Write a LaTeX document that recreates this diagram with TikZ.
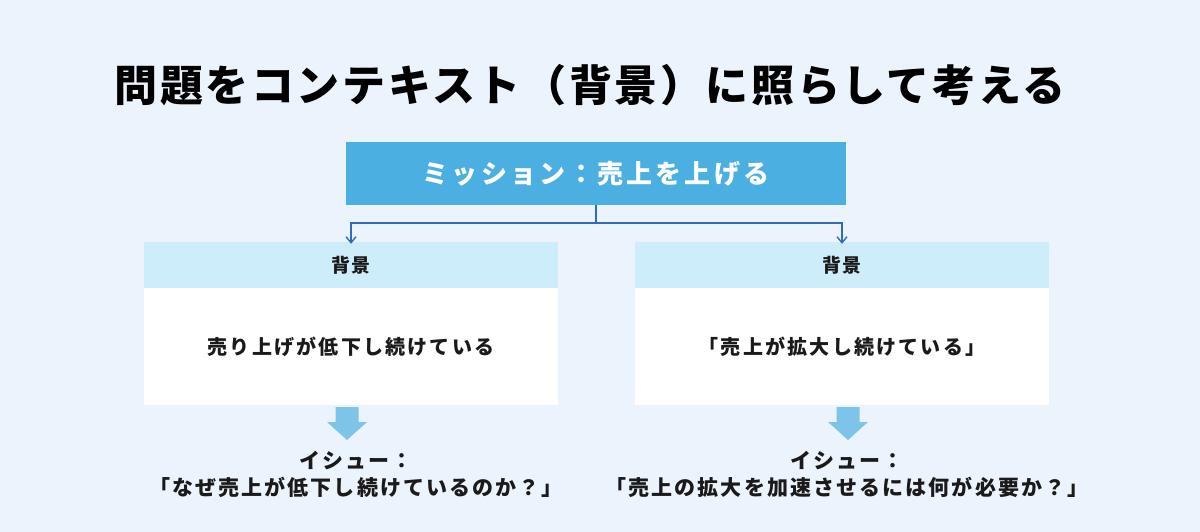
\documentclass[tikz,border=0pt]{standalone}
\usepackage{fontspec}
\setmainfont{Noto Sans CJK JP}
\usetikzlibrary{arrows.meta}
\definecolor{bgc}{HTML}{EBF3FC}
\definecolor{missionc}{HTML}{4BAFE1}
\definecolor{headc}{HTML}{CDEDFA}
\definecolor{bigarrowc}{HTML}{7DC3EA}
\definecolor{linec}{HTML}{2F6DB5}
\definecolor{txtc}{HTML}{1A1A1A}
\tikzset{
  mission/.style={fill=missionc, text=white, minimum width=500pt, minimum height=63pt, inner sep=0pt,
    font=\fontsize{26}{30}\selectfont\bfseries\addfontfeatures{LetterSpace=12}},
  headbox/.style={fill=headc, text=txtc, minimum width=414pt, minimum height=46pt, inner sep=0pt,
    font=\fontsize{19}{22}\selectfont\bfseries\addfontfeatures{LetterSpace=10}},
  bodybox/.style={fill=white, text=txtc, minimum width=414pt, minimum height=117pt, inner sep=0pt,
    font=\fontsize{20}{24}\selectfont\bfseries\addfontfeatures{LetterSpace=11}},
  issue/.style={text=txtc, align=center, inner sep=0pt,
    font=\fontsize{21}{27}\selectfont\bfseries\addfontfeatures{LetterSpace=10}},
  conn/.style={draw=linec, line width=1.4pt},
  connarrow/.style={conn, -{Straight Barb[length=6pt,width=10pt,line width=1.4pt]}},
  bigarrow/.style={fill=bigarrowc, draw=none}
}
\begin{document}
\begin{tikzpicture}[x=1pt,y=-1pt]
\fill[bgc] (0,0) rectangle (1200,532);
\useasboundingbox (0,0) rectangle (1200,532);

\node[text=black, inner sep=0pt, font=\fontsize{43}{50}\selectfont\bfseries\addfontfeatures{LetterSpace=6}] (title) at (590,85) {問題をコンテキスト（背景）に照らして考える};

\node[mission] (mis) at (596,173.5) {ミッション：売上を上げる};

\node[headbox] (lh) at (351,265) {背景};
\node[bodybox] (lb) at (351,346.5) {売り上げが低下し続けている};
\node[headbox] (rh) at (842,265) {背景};
\node[bodybox] (rb) at (842,346.5) {「売上が拡大し続けている」};

\coordinate (split) at (596,223);
\draw[conn] (mis.south) -- (split);
\draw[connarrow] (split) -| ([yshift=-2pt]lh.north);
\draw[connarrow] (split) -| ([yshift=-2pt]rh.north);

\fill[bigarrow] (335.5,407) -- (358.5,407) -- (358.5,422) -- (367,422) -- (347,440) -- (327,422) -- (335.5,422) -- cycle;
\fill[bigarrow] (836.5,407) -- (859.5,407) -- (859.5,422) -- (868,422) -- (848,440) -- (828,422) -- (836.5,422) -- cycle;

\node[issue] (li) at (356,474) {イシュー：\\「なぜ売上が低下し続けているのか？」};
\node[issue] (ri) at (847,474) {イシュー：\\「売上の拡大を加速させるには何が必要か？」};
\end{tikzpicture}
\end{document}
